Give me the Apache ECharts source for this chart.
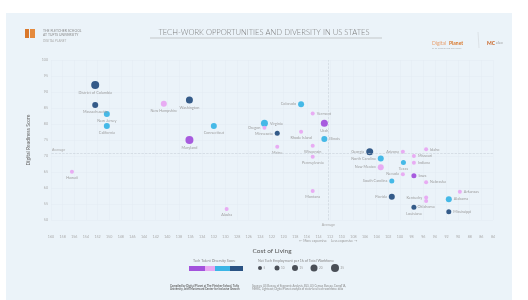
<!DOCTYPE html>
<html>
<head>
<meta charset="utf-8">
<script src="https://cdn.jsdelivr.net/npm/echarts@6/dist/echarts.min.js"></script>
<style>
  html, body { margin: 0; padding: 0; background: #fff; }
  #chart { width: 528px; height: 300px; }
</style>
</head>
<body>
<div id="chart"></div>
<script>
// state data
const states = [
  'District of Columbia', 'Massachusetts', 'New Jersey', 'California', 'New Hampshire',
  'Washington', 'Maryland', 'Connecticut', 'Hawaii', 'Alaska',
  'Virginia', 'Oregon', 'Colorado', 'Vermont', 'Utah',
  'Minnesota', 'Rhode Island', 'Illinois', 'Maine', 'Wisconsin',
  'Pennsylvania', 'Montana', 'Georgia', 'North Carolina', 'Arizona',
  'Idaho', 'Missouri', 'Texas', 'Indiana', 'New Mexico',
  'Nevada', 'Iowa', 'Nebraska', 'South Carolina', 'Arkansas',
  'Florida', 'Kentucky', 'Oklahoma', 'Alabama', 'Louisiana',
  'Mississippi'
]
const costOfLiving = [
  152.4, 152.4, 150.4, 150.4, 140.6,
  136.2, 136.2, 132.0, 156.4, 129.8,
  123.3, 123.3, 117.0, 115.0, 113.0,
  121.1, 117.0, 113.0, 121.1, 115.0,
  115.0, 115.0, 105.2, 103.3, 99.5,
  95.5, 97.6, 99.4, 97.6, 103.3,
  99.5, 97.6, 95.5, 101.4, 89.7,
  101.4, 95.5, 95.5, 91.6, 97.6,
  91.6
]
const readiness = [
  92.2, 85.9, 83.1, 79.4, 86.3,
  87.5, 75.0, 79.4, 65.1, 53.4,
  80.2, 78.8, 86.2, 83.3, 80.2,
  77.1, 77.6, 75.3, 72.9, 73.2,
  69.8, 59.1, 71.3, 69.2, 71.3,
  72.1, 70.0, 68.0, 67.9, 66.5,
  64.3, 63.8, 61.8, 62.2, 58.8,
  57.3, 57.0, 55.9, 56.5, 54.0,
  52.6
]
// 0 = purple, 1 = pink, 2 = cyan, 3 = navy
const diversityTier = [
  3, 3, 2, 2, 1,
  3, 0, 2, 1, 1,
  2, 1, 2, 1, 0,
  3, 1, 2, 1, 1,
  1, 1, 3, 2, 1,
  1, 1, 2, 1, 1,
  1, 0, 1, 2, 1,
  3, 1, 1, 2, 3,
  3
]
// net tech employment bucket 1..5
const techEmployment = [
  5, 3, 3, 3, 3,
  4, 5, 3, 1, 1,
  4, 1, 3, 1, 4,
  2, 1, 3, 1, 1,
  1, 1, 4, 3, 1,
  1, 1, 2, 1, 3,
  1, 2, 1, 2, 1,
  3, 1, 1, 3, 2,
  2
]
const yTicks = [50, 55, 60, 65, 70, 75, 80, 85, 90, 95, 100]
const avgCost = 112.3
const avgReadiness = 71

const tierColors = ['#a352dc', '#e8a8f2', '#3cb5e6', '#2a5283']
const sizeSteps = [4, 5, 6, 7, 8]

// where each name sits next to its dot
const labelSide = {
  'Virginia': 'right', 'Oregon': 'left', 'Colorado': 'left', 'Vermont': 'right',
  'Minnesota': 'left', 'Illinois': 'right', 'Georgia': 'left', 'North Carolina': 'left',
  'Arizona': 'left', 'Idaho': 'right', 'Missouri': 'right', 'Indiana': 'right',
  'New Mexico': 'left', 'Nevada': 'left', 'Iowa': 'right', 'Nebraska': 'right',
  'South Carolina': 'left', 'Arkansas': 'right', 'Florida': 'left', 'Kentucky': 'left',
  'Alabama': 'right', 'Mississippi': 'right'
}

const points = states.map((s, i) => ({
  name: s,
  value: [costOfLiving[i], readiness[i], techEmployment[i]],
  itemStyle: { color: tierColors[diversityTier[i]] },
  label: { position: labelSide[s] || 'bottom' }
}))

const chart = echarts.init(document.getElementById('chart'))

const option = {
  backgroundColor: '#ffffff',
  animation: false,
  grid: { left: 51, right: 35, top: 60, bottom: 80 },
  xAxis: {
    type: 'value',
    inverse: true,
    min: 84,
    max: 160,
    interval: 2,
    name: 'Cost of Living',
    nameLocation: 'middle',
    nameGap: 27,
    nameTextStyle: { fontFamily: 'Lato', fontSize: 6.5, color: '#555' },
    axisLine: { show: false },
    axisTick: { show: false },
    axisLabel: { fontSize: 3.6, color: '#aaa', margin: 15, fontFamily: 'Lato' },
    splitLine: { lineStyle: { color: '#e3ebf3', width: 0.5 } }
  },
  yAxis: {
    type: 'value',
    min: yTicks[0],
    max: yTicks[yTicks.length - 1],
    interval: 5,
    name: 'Digital Readiness Score',
    nameLocation: 'middle',
    nameGap: 12,
    nameTextStyle: { fontFamily: 'Lato', fontSize: 5, color: '#666' },
    axisLine: { show: false },
    axisTick: { show: false },
    axisLabel: { fontSize: 3.6, color: '#aaa', margin: 3, fontFamily: 'Lato' },
    splitLine: { lineStyle: { color: '#e3ebf3', width: 0.5 } }
  },
  series: [{
    type: 'scatter',
    data: points,
    symbolSize: v => sizeSteps[v[2] - 1],
    itemStyle: { opacity: 0.95 },
    label: {
      show: true,
      formatter: p => p.name,
      fontSize: 3.8,
      distance: 2,
      fontFamily: 'Lato',
      color: '#999'
    },
    markLine: {
      silent: true,
      symbol: 'none',
      lineStyle: { color: '#c8d0d8', type: 'dashed', width: 0.6 },
      data: [
        { xAxis: avgCost, label: { position: 'start', formatter: 'Average', fontSize: 3.6, color: '#aaa', distance: 3 } },
        { yAxis: avgReadiness, label: { position: 'insideEndTop', formatter: 'Average', fontSize: 3.6, color: '#aaa', distance: 1 } }
      ]
    }
  }],
  graphic: [
    // panel behind everything
    { type: 'rect', z: -10, shape: { x: 6, y: 13, width: 506, height: 287 }, style: { fill: '#ebf3f9' } },
    // logo
    { type: 'rect', shape: { x: 25, y: 29, width: 4, height: 9 }, style: { fill: '#d9782c' } },
    { type: 'rect', shape: { x: 30, y: 29, width: 5, height: 9 }, style: { fill: '#e58a3d' } },
    { type: 'text', left: 43, top: 29, style: { text: 'THE FLETCHER SCHOOL\nAT TUFTS UNIVERSITY', fontSize: 3.4, lineHeight: 4, fill: '#888', fontFamily: 'Lato' } },
    { type: 'text', left: 43, top: 40, style: { text: 'DIGITAL PLANET', fontSize: 3, fill: '#aaa', fontFamily: 'Lato' } },
    // title
    { type: 'text', left: 'center', top: 28.5, style: { text: 'TECH-WORK OPPORTUNITIES AND DIVERSITY IN US STATES', fontSize: 7.6, fill: '#7a7a7a', fontFamily: 'Lato', fontWeight: 300 } },
    { type: 'line', shape: { x1: 150, y1: 38, x2: 382, y2: 38 }, style: { stroke: '#999', lineWidth: 0.5 } },
    // right brand
    { type: 'text', left: 432, top: 41, style: { text: 'Digital', fontSize: 5, fill: '#e8a070', fontFamily: 'Lato' } },
    { type: 'text', left: 449, top: 41, style: { text: 'Planet', fontSize: 5, fill: '#d9782c', fontWeight: 'bold', fontFamily: 'Lato' } },
    { type: 'text', left: 432, top: 47, style: { text: 'THE FLETCHER SCHOOL', fontSize: 2.6, fill: '#aaa', fontFamily: 'Lato' } },
    { type: 'line', shape: { x1: 478, y1: 32, x2: 479, y2: 48 }, style: { stroke: '#d8dde2', lineWidth: 0.8 } },
    { type: 'text', left: 487, top: 41, style: { text: 'MC', fontSize: 5, fill: '#c8601f', fontWeight: 'bold', fontFamily: 'Lato' } },
    { type: 'text', left: 496, top: 41, style: { text: 'elec', fontSize: 4, fill: '#999', fontFamily: 'Lato' } },
    // arrows below the x axis
    { type: 'text', left: 299, top: 239, style: { text: '\u2190 More expensive', fontSize: 3.4, fill: '#999', fontFamily: 'Lato' } },
    { type: 'text', left: 331, top: 239, style: { text: 'Less expensive \u2192', fontSize: 3.4, fill: '#999', fontFamily: 'Lato' } },
    // colour legend
    { type: 'text', left: 193, top: 259, style: { text: 'Tech Talent Diversity Score', fontSize: 3.6, fill: '#888', fontFamily: 'Lato' } },
    { type: 'rect', shape: { x: 189, y: 266, width: 16, height: 5 }, style: { fill: tierColors[0] } },
    { type: 'rect', shape: { x: 205, y: 266, width: 10, height: 5 }, style: { fill: tierColors[1] } },
    { type: 'rect', shape: { x: 215, y: 266, width: 15, height: 5 }, style: { fill: tierColors[2] } },
    { type: 'rect', shape: { x: 230, y: 266, width: 13, height: 5 }, style: { fill: tierColors[3] } },
    // size legend
    { type: 'text', left: 258, top: 259, style: { text: 'Net Tech Employment per 1k of Total Workforce', fontSize: 3.6, fill: '#888', fontFamily: 'Lato' } },
    ...sizeSteps.map((d, i) => ({
      type: 'circle', shape: { cx: [260, 277, 295, 314, 335][i], cy: 268, r: d / 2 }, style: { fill: '#4a4f57' }
    })),
    ...['5', '10', '15', '20', '25'].map((t, i) => ({
      type: 'text', left: [260, 277, 295, 314, 335][i] + sizeSteps[i] / 2 + 1.5, top: 266.5, style: { text: t, fontSize: 3, fill: '#999', fontFamily: 'Lato' }
    })),
    // footer
    { type: 'text', left: 170, top: 284, style: { text: 'Compiled by Digital Planet at The Fletcher School, Tufts\nUniversity, with Mastercard Center for Inclusive Growth', fontSize: 2.8, lineHeight: 3.6, fill: '#666', fontWeight: 'bold', fontFamily: 'Lato', align: 'left' } },
    { type: 'text', left: 252, top: 284, style: { text: 'Sources: US Bureau of Economic Analysis, BLS, US Census Bureau, CompTIA,\nMERIC, Lightcast; Digital Planet analysis of state-level tech workforce data', fontSize: 2.8, lineHeight: 3.6, fill: '#888', fontFamily: 'Lato' } }
  ]
}

chart.setOption(option)
</script>
</body>
</html>
